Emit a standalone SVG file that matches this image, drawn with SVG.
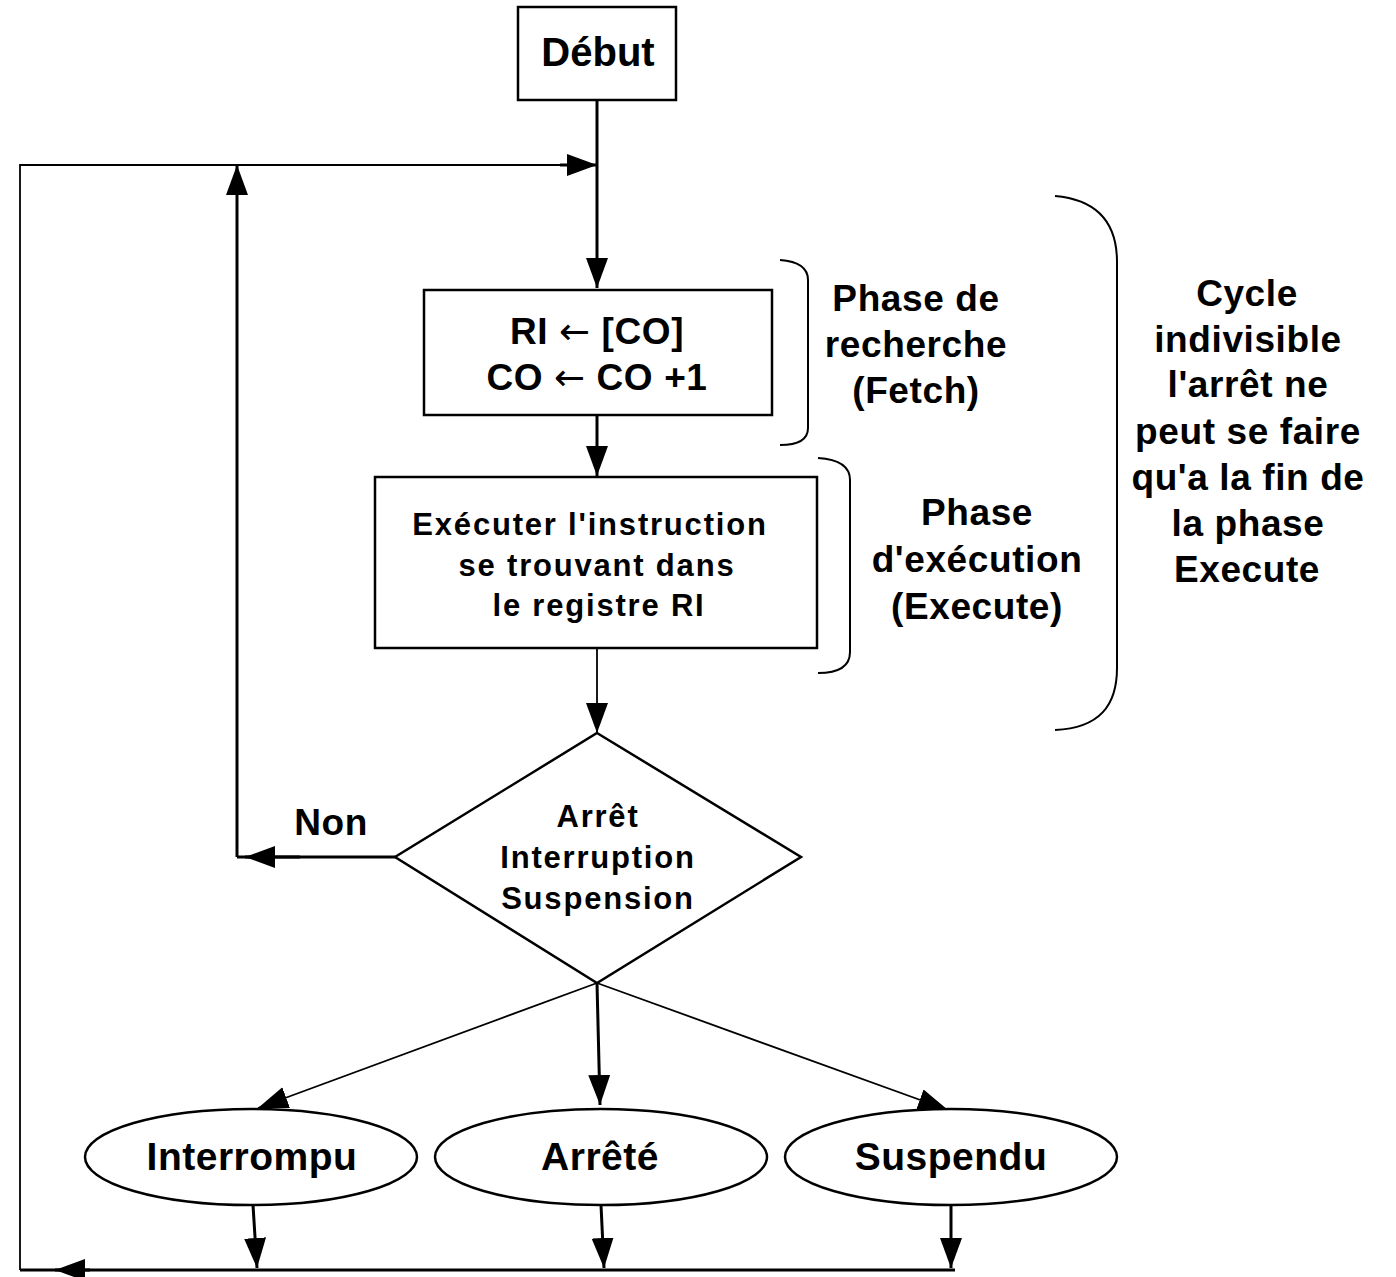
<svg xmlns="http://www.w3.org/2000/svg" width="1396" height="1277" viewBox="0 0 1396 1277">
<defs>
<marker id="ah" markerUnits="userSpaceOnUse" markerWidth="32" markerHeight="24" refX="30" refY="11" orient="auto">
<path d="M0,0 L30,11 L0,22 z" fill="#000"/>
</marker>
<style>
.box{fill:#fff;stroke:#000;stroke-width:2.5}
.ln{fill:none;stroke:#000;stroke-width:3}
.thin{fill:none;stroke:#000;stroke-width:1.8}
.br{fill:none;stroke:#000;stroke-width:2}
text{font-family:"Liberation Sans",Arial,sans-serif;font-weight:bold;fill:#000;text-anchor:middle}
.big{font-size:37px;letter-spacing:0.6px}
.mid{font-size:31px;letter-spacing:1.8px}
.ell{font-size:39px;letter-spacing:0.5px}
.arr{font-family:"DejaVu Sans",sans-serif;font-weight:normal}
</style>
</defs>
<rect width="1396" height="1277" fill="#fff"/>
<g id="connectors">
<path class="ln" d="M597,100 V288" marker-end="url(#ah)"/>
<path class="thin" d="M20,1270 V165 H560"/>
<path class="ln" d="M560,165 H597" marker-end="url(#ah)"/>
<path class="ln" d="M20,1270 H955"/>
<path class="ln" d="M90,1270 H55" marker-end="url(#ah)"/>
<path class="ln" d="M395,857 H237"/>
<path class="ln" d="M300,857 H245" marker-end="url(#ah)"/>
<path class="ln" d="M237,857 V165" marker-end="url(#ah)"/>
<path class="ln" d="M597,415 V476" marker-end="url(#ah)"/>
<path class="thin" d="M597,648 V733" marker-end="url(#ah)"/>
<path class="thin" d="M597,983 L258,1108" marker-end="url(#ah)"/>
<path class="ln" d="M597,983 L600,1105" marker-end="url(#ah)"/>
<path class="thin" d="M597,983 L948,1110" marker-end="url(#ah)"/>
<path class="ln" d="M253,1205 L257,1268" marker-end="url(#ah)"/>
<path class="ln" d="M601,1205 L604,1268" marker-end="url(#ah)"/>
<path class="ln" d="M951,1205 V1268" marker-end="url(#ah)"/>
</g>
<g id="debut">
<rect class="box" x="518" y="7" width="158" height="93"/>
<text x="598" y="66" font-size="40">Début</text>
</g>
<g id="fetch">
<rect class="box" x="424" y="290" width="348" height="125"/>
<text class="big" x="597" y="344">RI <tspan class="arr">←</tspan> [CO]</text>
<text class="big" x="597" y="390">CO <tspan class="arr">←</tspan> CO +1</text>
</g>
<g id="execute">
<rect class="box" x="375" y="477" width="442" height="171"/>
<text class="mid" x="590" y="535">Exécuter l'instruction</text>
<text class="mid" x="597" y="576">se trouvant dans</text>
<text class="mid" x="599" y="616">le registre RI</text>
</g>
<g id="decision">
<polygon class="box" points="597,733 801,857 597,983 395,857"/>
<text class="mid" x="598" y="827">Arrêt</text>
<text class="mid" x="598" y="868">Interruption</text>
<text class="mid" x="598" y="909">Suspension</text>
</g>
<g id="non-label">
<text class="big" x="331" y="835">Non</text>
</g>
<g id="interrompu">
<ellipse class="box" cx="251" cy="1157" rx="166" ry="48"/>
<text class="ell" x="252" y="1170">Interrompu</text>
</g>
<g id="arrete">
<ellipse class="box" cx="601" cy="1157" rx="166" ry="48"/>
<text class="ell" x="600" y="1170">Arrêté</text>
</g>
<g id="suspendu">
<ellipse class="box" cx="951" cy="1157" rx="166" ry="48"/>
<text class="ell" x="951" y="1170">Suspendu</text>
</g>
<g id="fetch-brace">
<path class="br" d="M780,260 Q808,262 808,280 V428 Q808,445 780,445"/>
<text class="big" x="916" y="311">Phase de</text>
<text class="big" x="916" y="357">recherche</text>
<text class="big" x="916" y="403">(Fetch)</text>
</g>
<g id="execute-brace">
<path class="br" d="M818,458 Q850,460 850,480 V652 Q850,673 818,673"/>
<text class="big" x="977" y="525">Phase</text>
<text class="big" x="977" y="572">d'exécution</text>
<text class="big" x="977" y="619">(Execute)</text>
</g>
<g id="cycle-brace">
<path class="br" d="M1055,196 C1100,200 1117,225 1117,262 V668 C1117,705 1100,728 1055,730"/>
<text class="big" x="1247" y="306">Cycle</text>
<text class="big" x="1248" y="352">indivisible</text>
<text class="big" x="1248" y="397">l'arrêt ne</text>
<text class="big" x="1248" y="444">peut se faire</text>
<text class="big" x="1248" y="490">qu'a la fin de</text>
<text class="big" x="1248" y="536">la phase</text>
<text class="big" x="1247" y="582">Execute</text>
</g>
</svg>
